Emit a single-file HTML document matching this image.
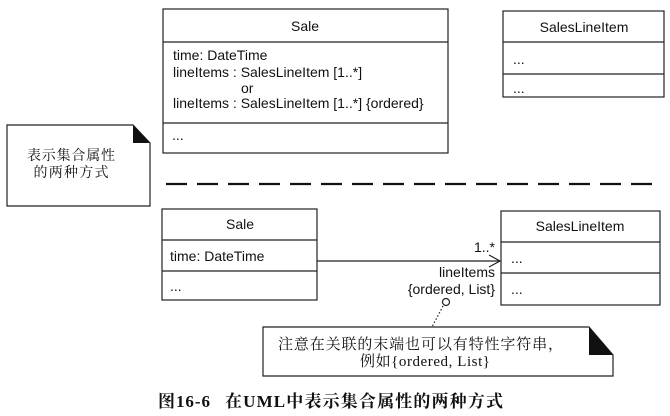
<!DOCTYPE html>
<html>
<head>
<meta charset="utf-8">
<style>
  html,body{margin:0;padding:0;background:#fff;}
  svg{display:block;}
  .s{font-family:"Liberation Sans",Arial,sans-serif;font-size:14px;fill:#111;}
  .c{font-family:"Liberation Serif","Noto Serif CJK SC",serif;fill:#111;}
</style>
</head>
<body>
<svg width="670" height="416" viewBox="0 0 670 416" xmlns="http://www.w3.org/2000/svg">
  <g fill="none" stroke="#222" stroke-width="1.2">
    <!-- top Sale -->
    <rect x="163" y="9" width="285" height="144"/>
    <line x1="163" y1="42" x2="448" y2="42"/>
    <line x1="163" y1="123" x2="448" y2="123"/>
    <!-- top SalesLineItem -->
    <rect x="503" y="11" width="161" height="86"/>
    <line x1="503" y1="42" x2="664" y2="42"/>
    <line x1="503" y1="74" x2="664" y2="74"/>
    <!-- top note -->
    <polygon points="7,125 133,125 150,143 150,206 7,206"/>
    <!-- bottom Sale -->
    <rect x="162" y="209" width="155" height="91"/>
    <line x1="162" y1="240" x2="317" y2="240"/>
    <line x1="162" y1="271" x2="317" y2="271"/>
    <!-- bottom SalesLineItem -->
    <rect x="501" y="211" width="159" height="94"/>
    <line x1="501" y1="242" x2="660" y2="242"/>
    <line x1="501" y1="273" x2="660" y2="273"/>
    <!-- association -->
    <line x1="317" y1="261" x2="500" y2="261"/>
    <polyline points="489,255 500,261 489,267"/>
    <!-- circle and dotted line -->
    <circle cx="446" cy="302" r="3.5"/>
    <line x1="443" y1="306" x2="432" y2="327" stroke-dasharray="1.5 2"/>
    <!-- bottom note -->
    <polygon points="263,327 589,327 613,355 613,376 263,376"/>
  </g>
  <!-- fold triangles -->
  <polygon points="133,125 133,143 150,143" fill="#111"/>
  <polygon points="589,327 589,355 613,355" fill="#111"/>
  <!-- dashed separator -->
  <line x1="166" y1="184" x2="652" y2="184" stroke="#111" stroke-width="2.2" stroke-dasharray="21 10"/>

  <!-- top Sale text -->
  <text class="s" x="305" y="31" text-anchor="middle">Sale</text>
  <text class="s" x="173" y="60">time: DateTime</text>
  <text class="s" x="173" y="77">lineItems : SalesLineItem [1..*]</text>
  <text class="s" x="241" y="93">or</text>
  <text class="s" x="173" y="108">lineItems : SalesLineItem [1..*] {ordered}</text>
  <text class="s" x="172" y="140" fill="#555">...</text>

  <!-- top SalesLineItem text -->
  <text class="s" x="584" y="32" text-anchor="middle">SalesLineItem</text>
  <text class="s" x="513" y="64" fill="#555">...</text>
  <text class="s" x="513" y="93" fill="#555">...</text>

  <!-- top note text -->
  <text class="c" x="71" y="160" font-size="14" text-anchor="middle" textLength="88" lengthAdjust="spacing">表示集合属性</text>
  <text class="c" x="71" y="177" font-size="14" text-anchor="middle" textLength="75" lengthAdjust="spacing">的两种方式</text>

  <!-- bottom Sale text -->
  <text class="s" x="240" y="229" text-anchor="middle">Sale</text>
  <text class="s" x="170" y="261">time: DateTime</text>
  <text class="s" x="170" y="291" fill="#555">...</text>

  <!-- bottom SalesLineItem text -->
  <text class="s" x="580" y="231" text-anchor="middle">SalesLineItem</text>
  <text class="s" x="511" y="263" fill="#555">...</text>
  <text class="s" x="511" y="294" fill="#555">...</text>

  <!-- association labels -->
  <text class="s" x="495" y="252" text-anchor="end">1..*</text>
  <text class="s" x="495" y="277" text-anchor="end">lineItems</text>
  <text class="s" x="495" y="294" text-anchor="end">{ordered, List}</text>

  <!-- bottom note text -->
  <text class="c" x="278" y="349" font-size="15" textLength="285" lengthAdjust="spacing">注意在关联的末端也可以有特性字符串，</text>
  <text class="c" x="360" y="366" font-size="15" textLength="130" lengthAdjust="spacing">例如{ordered, List}</text>

  <!-- caption -->
  <text class="c" x="158" y="407" font-size="17" font-weight="bold" textLength="52" lengthAdjust="spacing">图16-6</text>
  <text class="c" x="225" y="407" font-size="17" font-weight="bold" textLength="278" lengthAdjust="spacing">在UML中表示集合属性的两种方式</text>
</svg>
</body>
</html>
